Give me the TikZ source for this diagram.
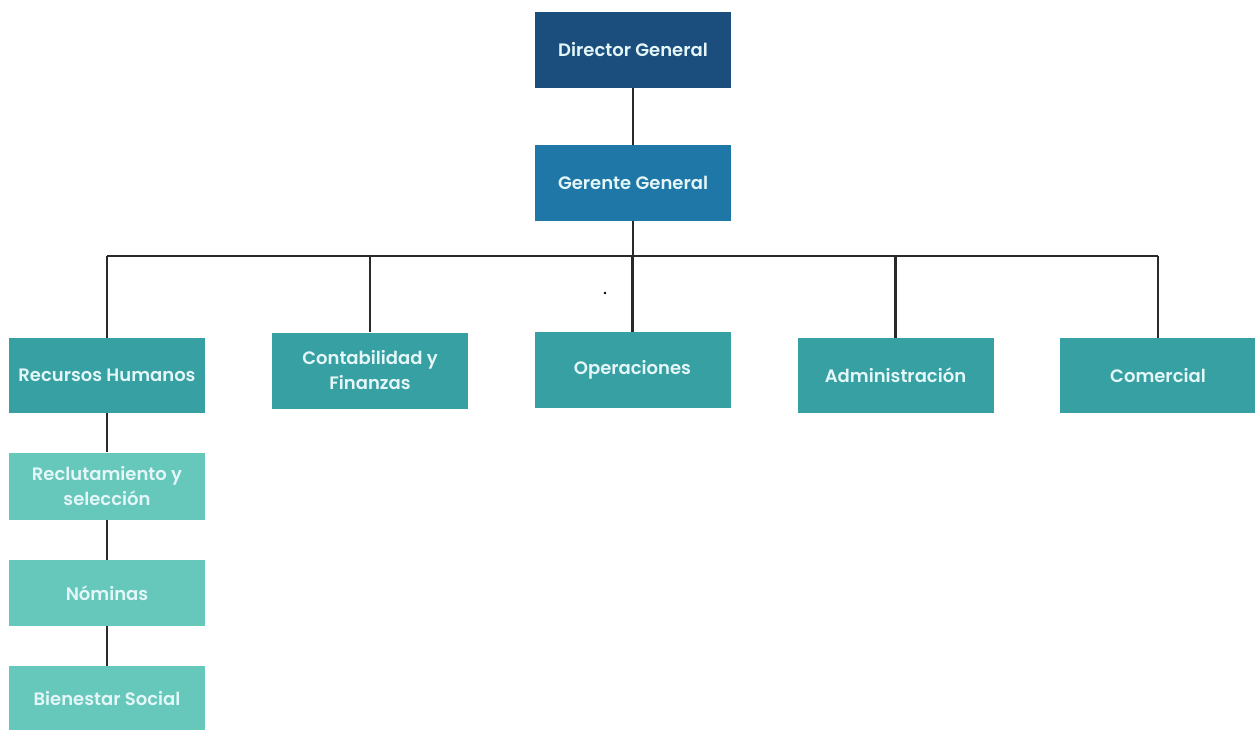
\documentclass[tikz,border=0pt]{standalone}
\usepackage{fontspec}
\setmainfont{Poppins}[UprightFont={* SemiBold}]
\definecolor{cdir}{HTML}{1B4E7C}
\definecolor{cger}{HTML}{1E77A6}
\definecolor{cdep}{HTML}{37A0A2}
\definecolor{csub}{HTML}{66C8BB}
\definecolor{ctxt}{HTML}{E4F6F8}
\definecolor{cline}{HTML}{2A2A2A}
\tikzset{
  box/.style={rectangle, minimum width=196pt, minimum height=76pt, inner sep=2pt,
    text=ctxt, align=center, font=\fontsize{18}{25}\selectfont},
  dirbox/.style={box, fill=cdir},
  gerbox/.style={box, fill=cger},
  depbox/.style={box, fill=cdep},
  subbox/.style={box, fill=csub, minimum height=67pt},
  link/.style={draw=cline, line width=2.5pt}
}
\begin{document}
\begin{tikzpicture}[x=1pt,y=1pt]
\useasboundingbox (0,0) rectangle (1255,-730);
\begin{scope}
\clip (0,0) rectangle (1255,-730);
\node[dirbox] (dir) at (633,-50) {Director General};
\node[gerbox] (ger) at (633,-183) {Gerente General};
\node[depbox, minimum height=75pt] (rh) at (107,-375.5) {Recursos Humanos};
\node[depbox] (cf) at (370,-370.5) {Contabilidad y\\Finanzas};
\node[depbox] (op) at (632.5,-370) {Operaciones};
\node[depbox, minimum height=75pt] (adm) at (895.5,-375.5) {Administración};
\node[depbox, minimum height=75pt] (com) at (1158,-375.5) {Comercial};
\node[subbox] (rec) at (107,-486) {Reclutamiento y\\selección};
\node[subbox, minimum height=66pt] (nom) at (107,-593) {Nóminas};
\node[subbox, minimum height=66pt] (bien) at (107,-699) {Bienestar Social};
\coordinate (bus) at (633,-256);
\fill[black] (605,-293) circle (1.3pt);
\end{scope}
\draw[link] (dir.south) -- (ger.north);
\draw[link] (ger.south) -- (bus);
\draw[link] (rh.north |- bus) -- (com.north |- bus);
\draw[link] (rh.north) -- (rh.north |- bus);
\draw[link] (cf.north) -- (cf.north |- bus);
\draw[link] (op.north) -- (op.north |- bus);
\draw[link] (adm.north) -- (adm.north |- bus);
\draw[link] (com.north) -- (com.north |- bus);
\draw[link] (rh.south) -- (rec.north);
\draw[link] (rec.south) -- (nom.north);
\draw[link] (nom.south) -- (bien.north);
\end{tikzpicture}
\end{document}
